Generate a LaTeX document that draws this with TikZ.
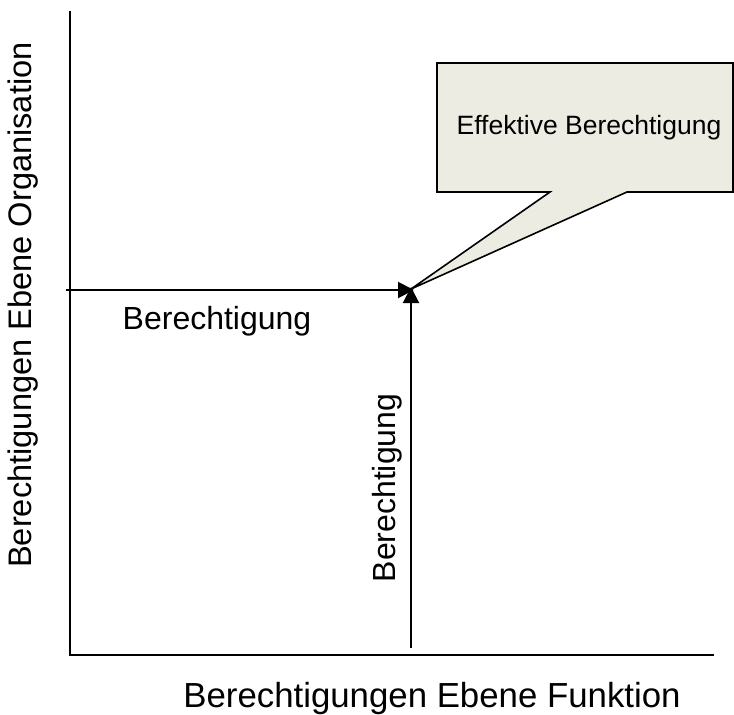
\documentclass[tikz,border=0pt]{standalone}
\usepackage{fontspec}
\setmainfont{Liberation Sans}
\usetikzlibrary{arrows.meta}
\definecolor{calloutfill}{RGB}{236,236,226}
\begin{document}
\begin{tikzpicture}[x=1pt,y=-1pt,
    axis/.style={line width=2pt,line cap=rect},
    flow/.style={line width=2pt,-{Triangle[length=16pt,width=16pt]}},
    lbl/.style={inner sep=0pt,font=\fontsize{32}{36}\selectfont},
    axlbl/.style={inner sep=0pt,font=\fontsize{32.6}{38}\selectfont},
    note/.style={inner sep=0pt,font=\fontsize{26.5}{30}\selectfont}]
  \useasboundingbox (0,0) rectangle (734,715);
  % axes
  \coordinate (top) at (70,12);
  \coordinate (origin) at (70,655);
  \coordinate (right) at (713,655);
  \draw[axis] (top) -- (origin) -- (right);
  % the two permission arrows meeting in one point
  \coordinate (hstart) at (66,290);
  \coordinate (vstart) at (411,648);
  \coordinate (meet) at (414,290);
  \coordinate (meetv) at (411,287);
  \draw[flow] (hstart) -- (meet);
  \draw[flow] (vstart) -- (meetv);
  % callout
  \draw[line width=1.6pt,fill=calloutfill,line join=miter]
    (437,63) -- (733,63) -- (733,192) -- (627,192) -- (411,289)
    -- (550,192) -- (437,192) -- cycle;
  \node[note] (eff) at (589,128) {Effektive Berechtigung};
  % labels
  \node[lbl] (hlabel) at (217,321) {Berechtigung};
  \node[lbl,rotate=90] (vlabel) at (387,488) {Berechtigung};
  \node[axlbl,font=\fontsize{34.8}{40}\selectfont] (xlabel) at (432,698) {Berechtigungen Ebene Funktion};
  \node[axlbl,rotate=90] (ylabel) at (23,305) {Berechtigungen Ebene Organisation};
\end{tikzpicture}
\end{document}
